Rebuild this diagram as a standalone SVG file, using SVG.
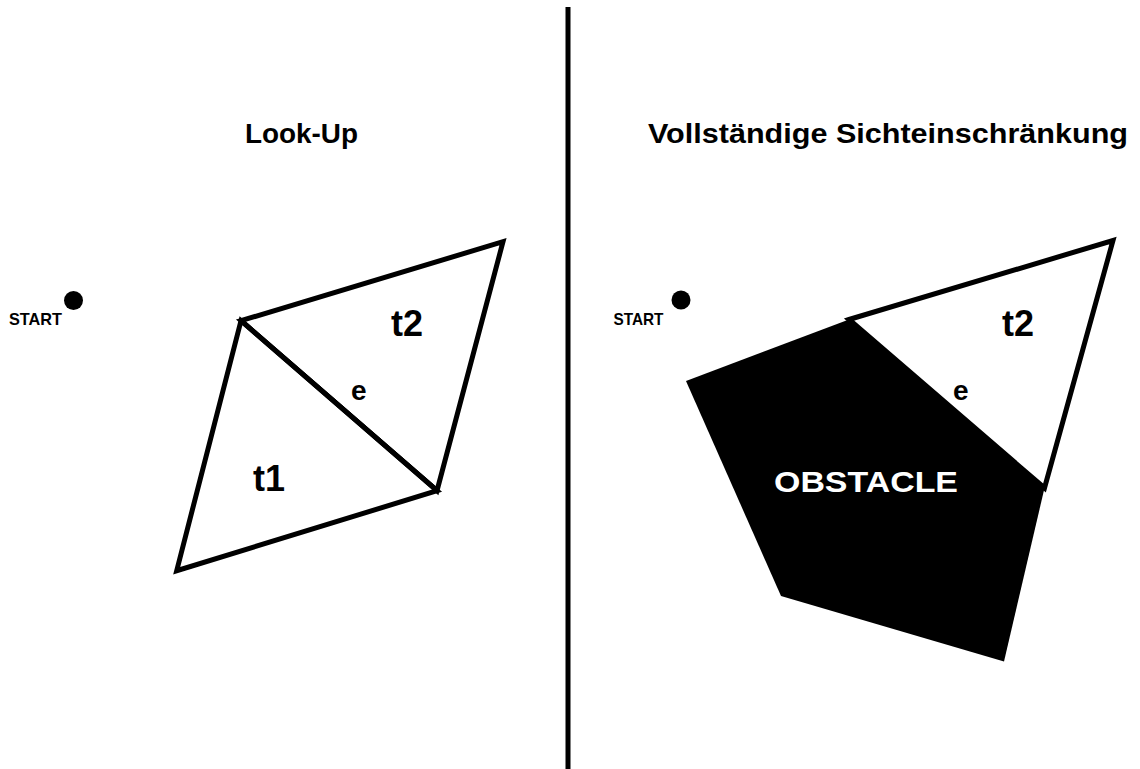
<svg xmlns="http://www.w3.org/2000/svg" width="1140" height="769" viewBox="0 0 1140 769">
  <style>
    .t { font-family: "Liberation Sans", Arial, sans-serif; font-weight: bold; fill: #000; }
    .title { font-size: 28px; }
    .lbl { font-size: 36px; }
    .e { font-size: 28px; }
    .start { font-size: 17px; }
    .edge { fill: #fff; stroke: #000; stroke-width: 5; stroke-linejoin: miter; }
    .line { stroke: #000; stroke-width: 5; fill: none; }
  </style>
  <rect width="1140" height="769" fill="#fff"/>

  <g id="divider">
    <line class="line" x1="568" y1="7" x2="568" y2="769"/>
  </g>

  <g id="left-panel">
    <text id="title-left" class="t title" x="245" y="143" textLength="113" lengthAdjust="spacingAndGlyphs">Look-Up</text>
    <g id="start-left">
      <circle cx="73.5" cy="300.5" r="9.5" fill="#000"/>
      <text class="t start" x="9" y="325" textLength="53" lengthAdjust="spacingAndGlyphs">START</text>
    </g>
    <g id="t2-left">
      <polygon class="edge" points="241,320.7 503,241.7 437,490.7"/>
      <text class="t lbl" x="391" y="336">t2</text>
    </g>
    <g id="t1-left">
      <polygon class="edge" points="241,320.7 437,490.7 176.7,570.7"/>
      <text class="t lbl" x="253" y="491">t1</text>
    </g>
    <g id="connectors-left">
      <line class="line" x1="241" y1="320.7" x2="437" y2="490.7"/>
      <text class="t e" x="351" y="400">e</text>
    </g>
  </g>

  <g id="right-panel">
    <text id="title-right" class="t title" x="648" y="143" textLength="480" lengthAdjust="spacingAndGlyphs">Vollständige Sichteinschränkung</text>
    <g id="start-right">
      <circle cx="681" cy="300" r="9.5" fill="#000"/>
      <text class="t start" x="613.5" y="325" textLength="50" lengthAdjust="spacingAndGlyphs">START</text>
    </g>
    <g id="t2-right">
      <polygon class="edge" points="849,319.5 1113,240.5 1044.5,488"/>
      <text class="t lbl" x="1002" y="336">t2</text>
    </g>
    <g id="obstacle">
      <polygon points="849,319.5 1044.5,488 1004,661.5 781,596 686,381" fill="#000"/>
      <text class="t" x="774" y="492" font-size="30" style="fill:#fff" textLength="184" lengthAdjust="spacingAndGlyphs">OBSTACLE</text>
    </g>
    <g id="connectors-right">
      <text class="t e" x="953" y="400">e</text>
    </g>
  </g>
</svg>
